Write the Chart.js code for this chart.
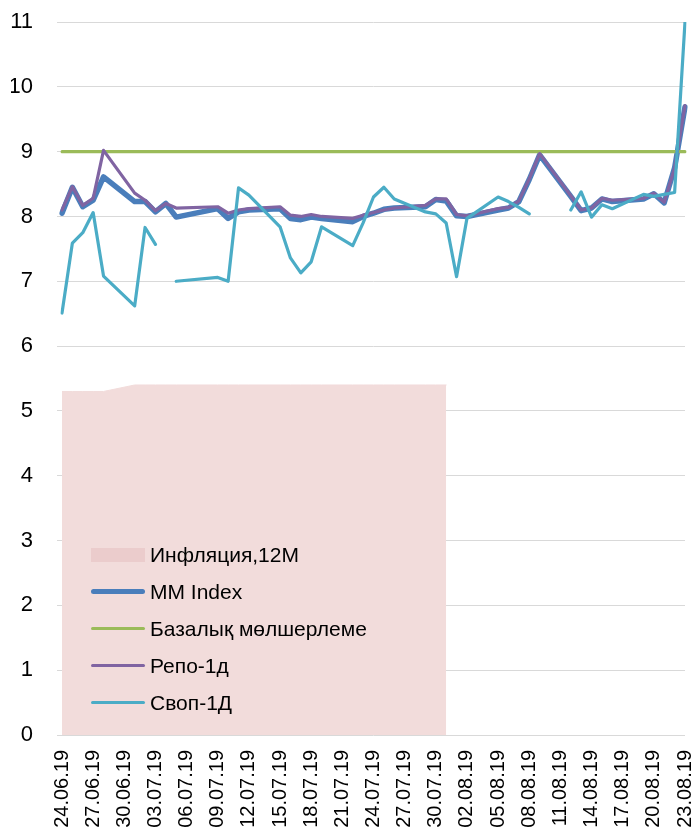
<!DOCTYPE html>
<html>
<head>
<meta charset="utf-8">
<script src="https://cdn.jsdelivr.net/npm/chart.js@4.4.1/dist/chart.umd.min.js"></script>
<style>
  html, body { margin: 0; padding: 0; background: #fff; }
  #wrap { position: relative; width: 696px; height: 838px; }
  #legend { position: absolute; left: 91px; top: 536px; font-family: 'Liberation Sans', Arial, sans-serif; font-size: 21px; color: #000; }
  .item { display: flex; align-items: center; height: 37px; white-space: nowrap; }
  .swatch { width: 54px; margin-right: 5px; }
</style>
</head>
<body>
<div id="wrap">
  <canvas id="myChart" width="696" height="838"></canvas>
  <div id="legend"></div>
</div>
<script>
'use strict';

// axis dates (every calendar day)
let dates = [
  '24.06.19', '25.06.19', '26.06.19', '27.06.19', '28.06.19', '29.06.19', '30.06.19',
  '01.07.19', '02.07.19', '03.07.19', '04.07.19', '05.07.19', '06.07.19', '07.07.19',
  '08.07.19', '09.07.19', '10.07.19', '11.07.19', '12.07.19', '13.07.19', '14.07.19',
  '15.07.19', '16.07.19', '17.07.19', '18.07.19', '19.07.19', '20.07.19', '21.07.19',
  '22.07.19', '23.07.19', '24.07.19', '25.07.19', '26.07.19', '27.07.19', '28.07.19',
  '29.07.19', '30.07.19', '31.07.19', '01.08.19', '02.08.19', '03.08.19', '04.08.19',
  '05.08.19', '06.08.19', '07.08.19', '08.08.19', '09.08.19', '10.08.19', '11.08.19',
  '12.08.19', '13.08.19', '14.08.19', '15.08.19', '16.08.19', '17.08.19', '18.08.19',
  '19.08.19', '20.08.19', '21.08.19', '22.08.19', '23.08.19'
];

// trading days that have values
let tradeDays = [
  '24.06.19', '25.06.19', '26.06.19', '27.06.19', '28.06.19',
  '01.07.19', '02.07.19', '03.07.19', '04.07.19', '05.07.19',
  '09.07.19', '10.07.19', '11.07.19', '12.07.19',
  '15.07.19', '16.07.19', '17.07.19', '18.07.19', '19.07.19',
  '22.07.19', '23.07.19', '24.07.19', '25.07.19', '26.07.19',
  '29.07.19', '30.07.19', '31.07.19', '01.08.19', '02.08.19',
  '05.08.19', '06.08.19', '07.08.19', '08.08.19', '09.08.19',
  '12.08.19', '13.08.19', '14.08.19', '15.08.19', '16.08.19',
  '19.08.19', '20.08.19', '21.08.19', '22.08.19', '23.08.19'
];

let inflation12m = [
  5.3, 5.3, 5.3, 5.3, 5.3,
  5.4, 5.4, 5.4, 5.4, 5.4,
  5.4, 5.4, 5.4, 5.4,
  5.4, 5.4, 5.4, 5.4, 5.4,
  5.4, 5.4, 5.4, 5.4, 5.4,
  5.4, 5.4, 5.4, null, null,
  null, null, null, null, null,
  null, null, null, null, null,
  null, null, null, null, null
];

let mmIndex = [
  8.05, 8.45, 8.15, 8.25, 8.61,
  8.23, 8.23, 8.07, 8.20, 7.99,
  8.12, 7.97, 8.07, 8.10,
  8.12, 7.97, 7.95, 7.99, 7.97,
  7.92, 8.00, 8.05, 8.11, 8.13,
  8.15, 8.26, 8.24, 8.01, 8.00,
  8.10, 8.13, 8.23, 8.57, 8.95,
  8.31, 8.09, 8.13, 8.27, 8.23,
  8.27, 8.35, 8.21, 8.75, 9.69
];

let baseRate = [
  9, 9, 9, 9, 9,
  9, 9, 9, 9, 9,
  9, 9, 9, 9,
  9, 9, 9, 9, 9,
  9, 9, 9, 9, 9,
  9, 9, 9, 9, 9,
  9, 9, 9, 9, 9,
  9, 9, 9, 9, 9,
  9, 9, 9, 9, 9
];

let repo1d = [
  8.10, 8.46, 8.17, 8.28, 9.02,
  8.36, 8.25, 8.09, 8.20, 8.13,
  8.15, 8.05, 8.10, 8.12,
  8.15, 8.02, 8.00, 8.03, 8.00,
  7.97, 8.02, 8.06, 8.10, 8.13,
  8.17, 8.27, 8.27, 8.03, 8.01,
  8.12, 8.14, 8.24, 8.58, 8.97,
  8.32, 8.10, 8.13, 8.28, 8.25,
  8.28, 8.36, 8.22, 8.75, 9.71
];

let swap1d = [
  6.51, 7.59, 7.75, 8.06, 7.08,
  6.62, 7.83, 7.57, null, 7.00,
  7.06, 7.00, 8.44, 8.33,
  7.84, 7.36, 7.13, 7.30, 7.84,
  7.55, 7.90, 8.30, 8.45, 8.27,
  8.07, 8.04, 7.90, 7.07, 7.97,
  8.30, 8.23, 8.14, 8.04, null,
  8.10, 8.38, 7.99, 8.18, 8.12,
  8.34, 8.31, 8.34, 8.37, 11.00
];

let yTicks = [0, 1, 2, 3, 4, 5, 6, 7, 8, 9, 10, 11];

// pair values with their trading day
function toPoints(values) {
  return tradeDays.map((d, i) => ({ x: d, y: values[i] }));
}

const ctx = document.getElementById('myChart').getContext('2d');
const myChart = new Chart(ctx, {
  type: 'line',
  data: {
    labels: dates,
    datasets: [
      {
        label: 'Инфляция,12М',
        data: toPoints(inflation12m),
        borderColor: '#f2dcdb',
        backgroundColor: '#f2dcdb',
        borderWidth: 1,
        fill: 'origin',
        order: 5
      },
      {
        label: 'MM Index',
        data: toPoints(mmIndex),
        borderColor: '#4a7ebb',
        borderWidth: 5.5,
        order: 4
      },
      {
        label: 'Базалық мөлшерлеме',
        data: toPoints(baseRate),
        borderColor: '#9bbb59',
        borderWidth: 3.2,
        order: 3
      },
      {
        label: 'Репо-1д',
        data: toPoints(repo1d),
        borderColor: '#8064a2',
        borderWidth: 3.2,
        order: 2
      },
      {
        label: 'Своп-1Д',
        data: toPoints(swap1d),
        borderColor: '#4bacc6',
        borderWidth: 3.2,
        order: 1
      }
    ]
  },
  options: {
    responsive: false,
    animation: false,
    events: [],
    layout: { autoPadding: false, padding: { left: 11, right: 11, top: 22, bottom: 0 } },
    plugins: {
      legend: { display: false },
      tooltip: { enabled: false }
    },
    elements: {
      point: { radius: 0 },
      line: { tension: 0, borderJoinStyle: 'round', borderCapStyle: 'round', fill: false }
    },
    scales: {
      x: {
        type: 'category',
        offset: false,
        grid: { display: false, drawTicks: false },
        border: { display: false },
        ticks: {
          autoSkip: false,
          minRotation: 90,
          maxRotation: 90,
          padding: 15,
          color: '#000',
          font: { family: "'Liberation Sans', Arial, sans-serif", size: 20 },
          callback: function (val, idx) {
            return idx % 3 === 0 ? this.getLabelForValue(val) : '';
          }
        },
        afterFit: function (scale) {
          scale.height = 103;
          scale.paddingLeft = 0;
          scale.paddingRight = 0;
        }
      },
      y: {
        min: yTicks[0],
        max: yTicks[yTicks.length - 1],
        grid: { color: '#d9d9d9', lineWidth: 1, drawTicks: true, tickLength: 5 },
        border: { display: false },
        ticks: {
          stepSize: 1,
          padding: 24,
          color: '#000',
          font: { family: "'Liberation Sans Narrow', 'Liberation Sans', Arial, sans-serif", size: 22 }
        },
        afterFit: function (scale) {
          scale.width = 51;
          scale.paddingTop = 0;
          scale.paddingBottom = 0;
        }
      }
    }
  }
});

// legend drawn inside the plot, bottom-left
let legendBox = document.getElementById('legend');
myChart.data.datasets.forEach(function (ds) {
  let item = document.createElement('div');
  item.className = 'item';
  let sw = document.createElement('div');
  sw.className = 'swatch';
  if (ds.fill) {
    sw.style.height = '14px';
    sw.style.background = '#ebcccc';
  } else {
    sw.style.height = ds.borderWidth + 'px';
    sw.style.background = ds.borderColor;
    sw.style.borderRadius = '3px';
  }
  let txt = document.createElement('span');
  txt.textContent = ds.label;
  item.appendChild(sw);
  item.appendChild(txt);
  legendBox.appendChild(item);
});
</script>
</body>
</html>
